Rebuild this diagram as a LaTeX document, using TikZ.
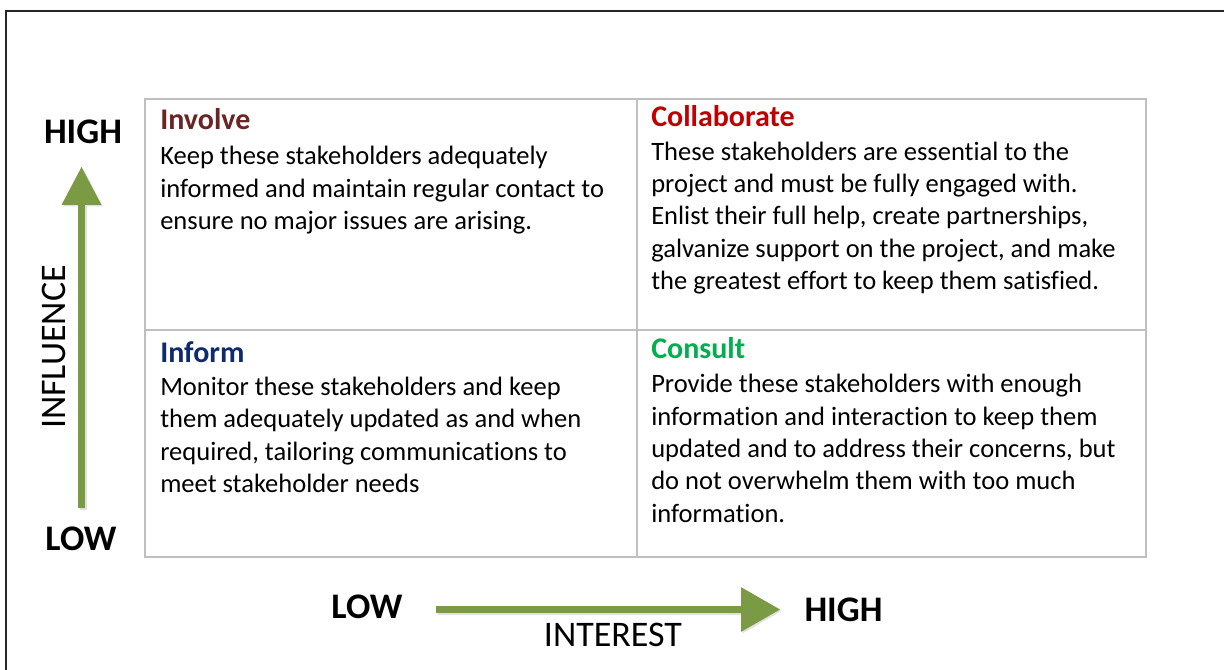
\documentclass[tikz,border=0pt]{standalone}
\usepackage{fontspec}
\setmainfont{Carlito}[Ligatures=NoCommon]
\usetikzlibrary{arrows.meta}
\definecolor{gridgray}{HTML}{BFBFBF}
\definecolor{arrowgreen}{HTML}{7A9A44}
\definecolor{involvecol}{HTML}{6B2424}
\definecolor{collabcol}{HTML}{C00000}
\definecolor{informcol}{HTML}{0F2B6B}
\definecolor{consultcol}{HTML}{00B050}
\begin{document}
\begin{tikzpicture}[x=0.75pt,y=-0.75pt,
  gridline/.style={draw=gridgray, line width=1.5pt},
  frameline/.style={draw=black!85, line width=1pt},
  quadtitle/.style={anchor=base west, inner sep=0pt, font=\fontsize{22.5pt}{27pt}\selectfont\bfseries},
  quadbody/.style={anchor=base west, inner sep=0pt, align=left, font=\fontsize{19.9pt}{24.2pt}\selectfont},
  axislabel/.style={inner sep=0pt, font=\fontsize{27pt}{32pt}\selectfont\bfseries},
  axisname/.style={inner sep=0pt, font=\fontsize{27pt}{32pt}\selectfont},
  varrow/.style={draw=arrowgreen, line width=5.25pt, -{Triangle[length=28.5pt,width=30pt,line width=0pt]}},
  harrow/.style={draw=arrowgreen, line width=5.6pt, -{Triangle[length=29.25pt,width=33.5pt,line width=0pt]}},
  arrowshadow/.style={draw=black, opacity=0.12}
]
\useasboundingbox (0,0) rectangle (1224,670);
\fill[white] (0,0) rectangle (1224,670);
% outer frame (right and bottom edges lie beyond the picture)
\draw[frameline] (6,690) -- (6,11) -- (1240,11);

% matrix grid
\draw[gridline] (145,99) rectangle (1146,557);
\draw[gridline] (637,99) -- (637,557);
\draw[gridline] (145,330) -- (1146,330);

% quadrant texts (body nodes are placed by the baseline of their last line)
\node[quadtitle, text=involvecol] (involveT) at (160,130) {Involve};
\node[quadbody] (involveB) at (160,229.5) {Keep these stakeholders adequately\\informed and maintain regular contact to\\ensure no major issues are arising.};

\node[quadtitle, text=collabcol] (collabT) at (651,127) {Collaborate};
\node[quadbody] (collabB) at (651,289.5) {These stakeholders are essential to the\\project and must be fully engaged with.\\Enlist their full help, create partnerships,\\galvanize support on the project, and make\\the greatest effort to keep them satisfied.};

\node[quadtitle, text=informcol] (informT) at (160,362) {Inform};
\node[quadbody] (informB) at (160,492.5) {Monitor these stakeholders and keep\\them adequately updated as and when\\required, tailoring communications to\\meet stakeholder needs};

\node[quadtitle, text=consultcol] (consultT) at (651,358) {Consult};
\node[quadbody] (consultB) at (651,522) {Provide these stakeholders with enough\\information and interaction to keep them\\updated and to address their concerns, but\\do not overwhelm them with too much\\information.};

% influence axis
\node[axislabel] (highL) at (83,131.5) {HIGH};
\node[axislabel] (lowL) at (81,539) {LOW};
\node[axisname, rotate=90] (influence) at (54,347) {INFLUENCE};
\coordinate (vstart) at (81.5,508);
\coordinate (vend) at (81.5,167);
\coordinate (vstartS) at (83,509.5);
\coordinate (vendS) at (83,168.5);
\draw[varrow, arrowshadow] (vstartS) -- (vendS);
\draw[varrow] (vstart) -- (vend);

% interest axis
\node[axislabel] (lowB) at (367,607) {LOW};
\node[axislabel] (highB) at (843.5,610) {HIGH};
\node[axisname] (interest) at (613,635) {INTEREST};
\coordinate (hstart) at (436,609.5);
\coordinate (hend) at (780,609.5);
\coordinate (hstartS) at (437.5,611);
\coordinate (hendS) at (781.5,611);
\draw[harrow, arrowshadow] (hstartS) -- (hendS);
\draw[harrow] (hstart) -- (hend);
\end{tikzpicture}
\end{document}
